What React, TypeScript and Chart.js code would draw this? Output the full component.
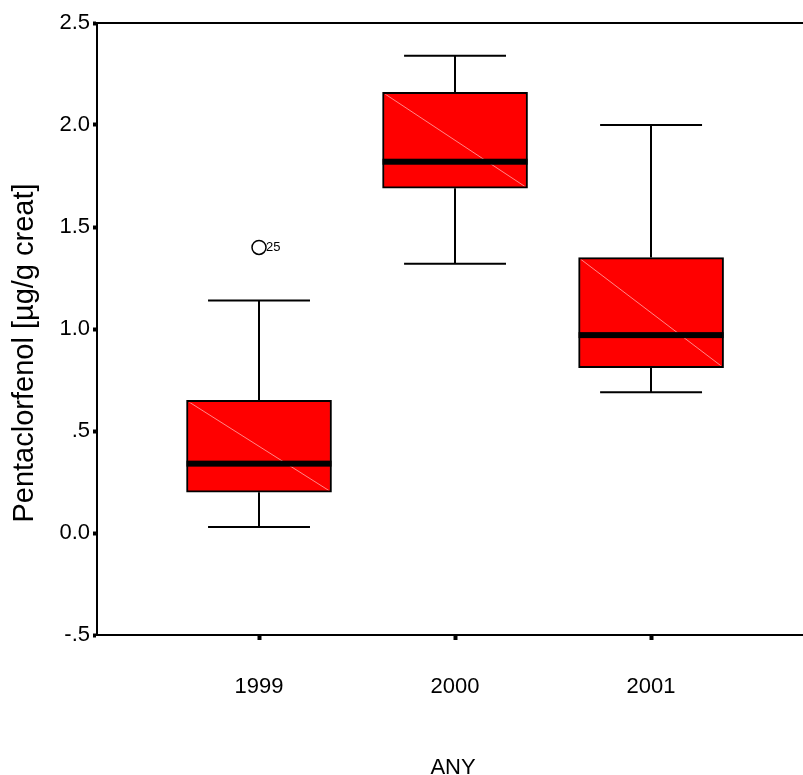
import React, { useEffect, useRef } from "react";
import { Chart, registerables } from "chart.js";

Chart.register(...registerables);

const categories = ["1999", "2000", "2001"];
const positions = [1, 2, 3];
const whiskerLow = [0.03, 1.32, 0.69];
const q1 = [0.2, 1.69, 0.81];
const median = [0.34, 1.82, 0.97];
const q3 = [0.65, 2.16, 1.35];
const whiskerHigh = [1.14, 2.34, 2.0];
const outlierPositions = [1];
const outlierValues = [1.4];
const outlierLabels = ["25"];
const yTicks = [-0.5, 0, 0.5, 1, 1.5, 2, 2.5];
const yTickLabels = ["-.5", "0.0", ".5", "1.0", "1.5", "2.0", "2.5"];
const xTitle = "ANY";
const yTitle = "Pentaclorfenol [µg/g creat]";

const FONT = "'Liberation Sans', Arial, sans-serif";

const boxPlugin = {
  id: "boxExtras",
  beforeDatasetsDraw(chart: any) {
    const { ctx, scales } = chart;
    const xs = scales.x;
    const ys = scales.y;
    ctx.save();
    ctx.strokeStyle = "#000";
    ctx.lineWidth = 2;
    positions.forEach((p, i) => {
      const cx = Math.round(xs.getPixelForValue(p));
      const capL = xs.getPixelForValue(p - 0.26);
      const capR = xs.getPixelForValue(p + 0.26);
      const yLo = ys.getPixelForValue(whiskerLow[i]);
      const yHi = ys.getPixelForValue(whiskerHigh[i]);
      const yQ1 = ys.getPixelForValue(q1[i]);
      const yQ3 = ys.getPixelForValue(q3[i]);
      ctx.beginPath();
      ctx.moveTo(cx, yQ3);
      ctx.lineTo(cx, yHi);
      ctx.moveTo(cx, yQ1);
      ctx.lineTo(cx, yLo);
      ctx.moveTo(capL, yHi);
      ctx.lineTo(capR, yHi);
      ctx.moveTo(capL, yLo);
      ctx.lineTo(capR, yLo);
      ctx.stroke();
    });
    ctx.restore();
  },
  afterDatasetsDraw(chart: any) {
    const { ctx, scales, chartArea } = chart;
    const xs = scales.x;
    const ys = scales.y;
    ctx.save();
    const meta = chart.getDatasetMeta(0);
    positions.forEach((p, i) => {
      const bar = meta.data[i];
      const props = bar.getProps(["x", "y", "base", "width"], true);
      const left = props.x - props.width / 2;
      const right = props.x + props.width / 2;
      const top = Math.min(props.y, props.base);
      const bottom = Math.max(props.y, props.base);
      ctx.save();
      ctx.beginPath();
      ctx.rect(left + 2, top + 2, right - left - 4, bottom - top - 4);
      ctx.clip();
      ctx.strokeStyle = "rgba(255,170,170,0.8)";
      ctx.lineWidth = 1;
      ctx.beginPath();
      ctx.moveTo(left, top);
      ctx.lineTo(right, bottom);
      ctx.stroke();
      ctx.restore();
      const ym = ys.getPixelForValue(median[i]);
      ctx.fillStyle = "#000";
      ctx.fillRect(left, ym - 3, right - left, 6);
    });
    ctx.fillStyle = "#000";
    ctx.font = `13px ${FONT}`;
    ctx.textBaseline = "middle";
    ctx.textAlign = "left";
    outlierPositions.forEach((p, i) => {
      const x = xs.getPixelForValue(p);
      const y = ys.getPixelForValue(outlierValues[i]);
      ctx.fillText(outlierLabels[i], x + 7, y);
    });
    ctx.strokeStyle = "#000";
    ctx.lineWidth = 2;
    ctx.beginPath();
    ctx.moveTo(chartArea.left, chartArea.top);
    ctx.lineTo(chart.width, chartArea.top);
    ctx.stroke();
    ctx.restore();
  },
  afterDraw(chart: any) {
    const { ctx, chartArea } = chart;
    ctx.save();
    ctx.fillStyle = "#000";
    ctx.font = `29px ${FONT}`;
    ctx.textAlign = "center";
    ctx.textBaseline = "alphabetic";
    ctx.translate(33, 353);
    ctx.rotate(-Math.PI / 2);
    ctx.fillText(yTitle, 0, 0);
    ctx.restore();
    ctx.save();
    ctx.fillStyle = "#000";
    ctx.font = `22px ${FONT}`;
    ctx.textAlign = "center";
    ctx.textBaseline = "alphabetic";
    ctx.fillText(xTitle, (chartArea.left + chartArea.right) / 2 + 3, 774);
    ctx.restore();
  },
};

export default function App() {
  const canvasRef = useRef<HTMLCanvasElement | null>(null);

  useEffect(() => {
    if (!canvasRef.current) return;
    const chart = new Chart(canvasRef.current, {
      type: "bar",
      data: {
        datasets: [
          {
            type: "bar",
            data: positions.map((p, i) => ({ x: p, y: [q1[i], q3[i]] })) as any,
            backgroundColor: "#ff0000",
            borderColor: "#000",
            borderWidth: 2,
            borderSkipped: false,
            barThickness: 145,
            order: 2,
          } as any,
          {
            type: "scatter",
            data: outlierPositions.map((p, i) => ({ x: p, y: outlierValues[i] })),
            pointStyle: "circle",
            pointRadius: 7,
            pointBorderWidth: 1.5,
            pointBorderColor: "#000",
            pointBackgroundColor: "#fff",
            clip: false,
            order: 1,
          } as any,
        ],
      },
      options: {
        animation: false,
        responsive: true,
        maintainAspectRatio: false,
        devicePixelRatio: 1,
        layout: { autoPadding: false, padding: { top: 23, right: 0, left: 0, bottom: 0 } },
        plugins: { legend: { display: false }, tooltip: { enabled: false } },
        scales: {
          x: {
            type: "linear",
            offset: false,
            min: 0.1735,
            max: 3.775,
            afterBuildTicks: (scale: any) => {
              scale.ticks = positions.map((v) => ({ value: v }));
            },
            afterFit: (scale: any) => {
              scale.height = 140;
              scale.paddingLeft = 0;
              scale.paddingRight = 0;
            },
            ticks: {
              color: "#000",
              font: { family: FONT, size: 22 },
              padding: 34,
              maxRotation: 0,
              autoSkip: false,
              callback: (v: any) => {
                const idx = positions.indexOf(Number(v));
                return idx >= 0 ? categories[idx] : "";
              },
            },
            grid: {
              display: true,
              offset: false,
              drawOnChartArea: false,
              drawTicks: true,
              tickLength: 5,
              tickWidth: 4,
              tickColor: "#000",
            },
            border: { display: true, color: "#000", width: 2 },
          },
          y: {
            type: "linear",
            min: -0.5,
            max: 2.5,
            afterBuildTicks: (scale: any) => {
              scale.ticks = yTicks.map((v) => ({ value: v }));
            },
            afterFit: (scale: any) => {
              scale.width = 97;
            },
            ticks: {
              color: "#000",
              font: { family: FONT, size: 22 },
              padding: 3,
              callback: (v: any) => {
                const idx = yTicks.indexOf(Number(v));
                return idx >= 0 ? yTickLabels[idx] : "";
              },
            },
            grid: {
              display: true,
              drawOnChartArea: false,
              drawTicks: true,
              tickLength: 4,
              tickWidth: 4,
              tickColor: "#000",
            },
            border: { display: true, color: "#000", width: 2 },
          },
        },
      } as any,
      plugins: [boxPlugin],
    });
    return () => chart.destroy();
  }, []);

  return (
    <div style={{ position: "fixed", left: 0, top: 0, width: 803, height: 775, background: "#fff" }}>
      <canvas ref={canvasRef} />
    </div>
  );
}
